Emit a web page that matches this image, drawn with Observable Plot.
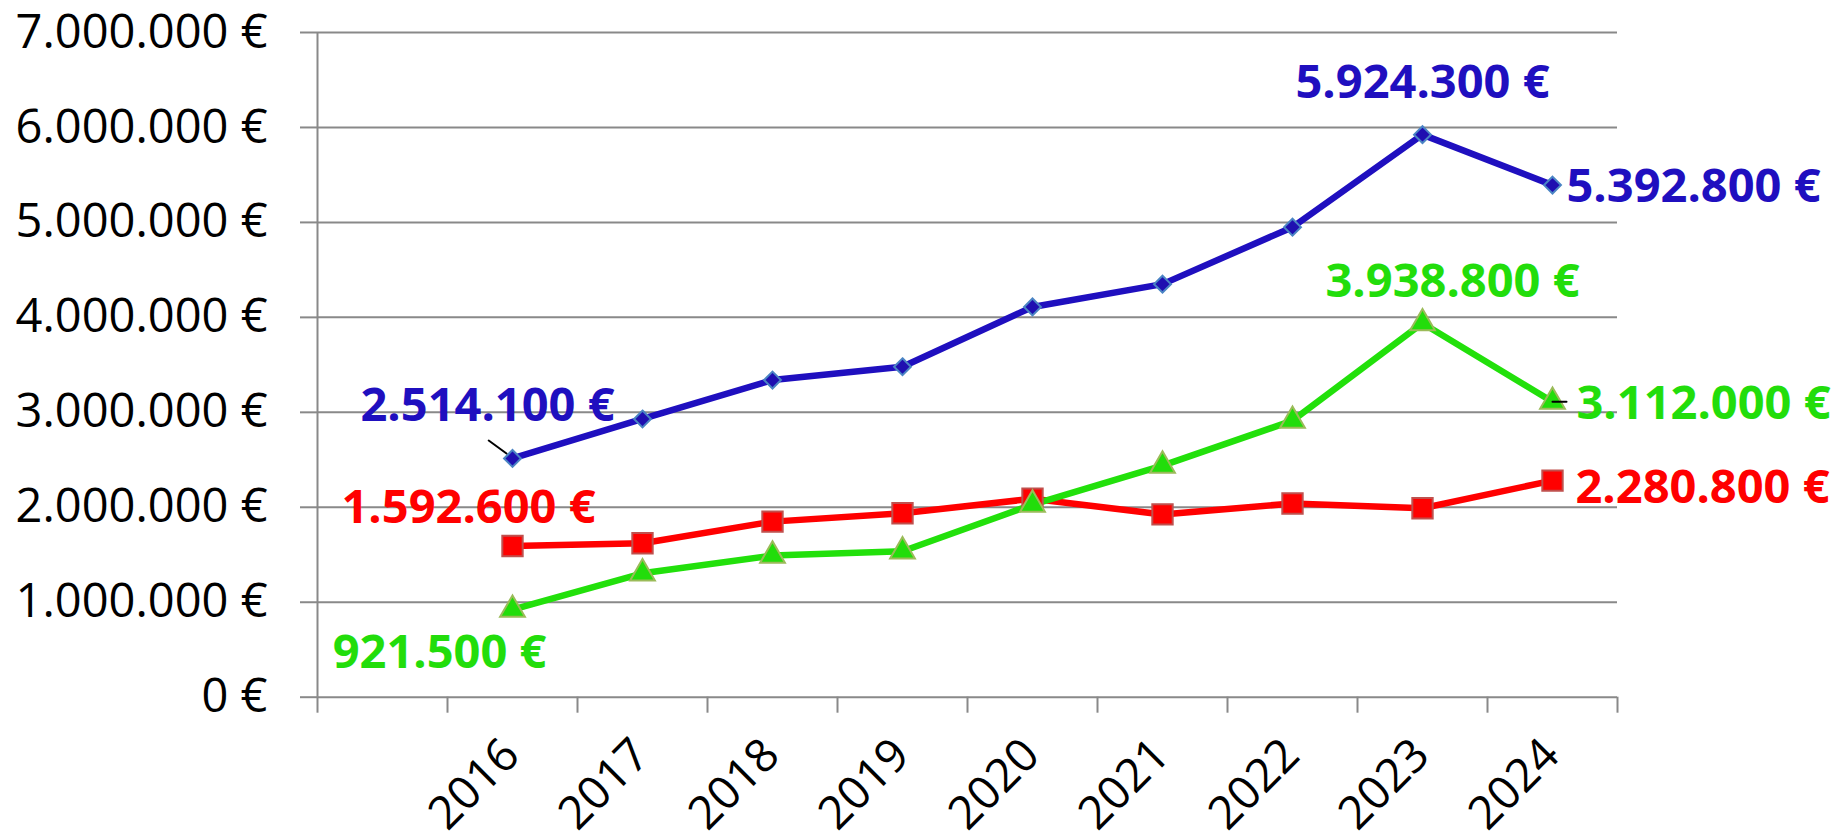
<!DOCTYPE html>
<html><head><meta charset="utf-8">
<script src="https://cdn.jsdelivr.net/npm/d3@7"></script>
<script src="https://cdn.jsdelivr.net/npm/@observablehq/plot@0.6"></script>
<style>html,body{margin:0;padding:0;background:#fff}</style>
</head><body><div id="chart"></div>
<script>
// ---- data ----
const years = [2016, 2017, 2018, 2019, 2020, 2021, 2022, 2023, 2024];
const blueValues  = [2514100, 2930000, 3340000, 3480000, 4110000, 4350000, 4950000, 5924300, 5392800];
const redValues   = [1592600, 1621000, 1849000, 1937000, 2090000, 1925000, 2040000, 1990000, 2280800];
const greenValues = [921500, 1305000, 1491000, 1537000, 2028000, 2439000, 2912000, 3938800, 3112000];
const yTicks = [0, 1000000, 2000000, 3000000, 4000000, 5000000, 6000000, 7000000];

// ---- styling / layout config ----
const xDomain = [2014.5, 2024.5];
const edges = d3.range(xDomain[0], xDomain[1] + 0.5, 1);
const FONT = "'Open Sans', 'Noto Sans', sans-serif";
const FS = 47;
const GRID = "#898989";
const series = [
  {key: "blue",  values: blueValues,  line: "#1F0FBF", label: "#1F0FBF", symbol: "diamond2", r: 7.6, fill: "#1F0FB0", stroke: "#4A84C4"},
  {key: "red",   values: redValues,   line: "#FF0000", label: "#FF0000", symbol: "square",   r: 11.5, fill: "#FF0000", stroke: "#C0504D"},
  {key: "green", values: greenValues, line: "#22E00B", label: "#22DD0B", symbol: "triangle", r: 9.2, fill: "#22DD0B", stroke: "#9BBB59"}
];
const labelSpec = [
  {key: "blue",  year: 2016, dx: -25, dy: -53, anchor: "middle"},
  {key: "blue",  year: 2023, dx: 0,   dy: -52, anchor: "middle"},
  {key: "blue",  year: 2024, dx: 14,  dy: 2,   anchor: "start"},
  {key: "green", year: 2016, dx: -73, dy: 43,  anchor: "middle"},
  {key: "green", year: 2023, dx: 30,  dy: -41, anchor: "middle"},
  {key: "green", year: 2024, dx: 24,  dy: 2,   anchor: "start"},
  {key: "red",   year: 2016, dx: -44, dy: -38, anchor: "middle"},
  {key: "red",   year: 2024, dx: 23,  dy: 7,   anchor: "start"}
];
const leaderSpec = [
  {key: "blue",  year: 2016, dx: -6, dy: -5, rotate: -54, length: 22},
  {key: "green", year: 2024, dx: 0,  dy: 0,  rotate: 90,  length: 14}
];

const fmt = v => d3.format(",")(v).replace(/,/g, ".") + " €";
const rows = s => years.map((year, i) => ({year, value: s.values[i]}));
const byKey = Object.fromEntries(series.map(s => [s.key, s]));
const point = (key, year) => {
  const s = byKey[key];
  return {year, value: s.values[years.indexOf(year)]};
};
const lineShape = {draw(context, l) { context.moveTo(0, 0); context.lineTo(0, -l); }};

const marks = [
  Plot.ruleY(yTicks, {stroke: GRID, strokeWidth: 2}),
  Plot.ruleX([xDomain[0]], {y1: 0, y2: yTicks[yTicks.length - 1], stroke: GRID, strokeWidth: 2}),
  Plot.axisY(yTicks, {tickSize: 17, tickPadding: 33, tickFormat: fmt, fontSize: FS, stroke: GRID, strokeWidth: 2, fill: "black", label: null}),
  Plot.axisX(edges, {tickSize: 16, tickFormat: () => "", stroke: GRID, strokeWidth: 2, label: null})
];
for (const s of series) {
  marks.push(Plot.line(rows(s), {x: "year", y: "value", stroke: s.line, strokeWidth: 6.5}));
}
for (const s of series) {
  marks.push(Plot.dot(rows(s), {x: "year", y: "value", symbol: s.symbol, r: s.r, fill: s.fill, stroke: s.stroke, strokeWidth: 2}));
}
for (const l of leaderSpec) {
  marks.push(Plot.vector([point(l.key, l.year)], {x: "year", y: "value", length: l.length, rotate: l.rotate, anchor: "start", shape: lineShape, dx: l.dx, dy: l.dy, stroke: "black", strokeWidth: 2}));
}
for (const l of labelSpec) {
  marks.push(Plot.text([point(l.key, l.year)], {x: "year", y: "value", text: d => fmt(d.value), dx: l.dx, dy: l.dy, textAnchor: l.anchor, fill: byKey[l.key].label, fontSize: FS, fontWeight: "bold"}));
}
marks.push(Plot.text(years, {x: d => d, y: 0, text: d => String(d), rotate: -45, textAnchor: "end", dx: -1, dy: 50, fontSize: 46, fill: "black"}));

const chart = Plot.plot({
  width: 1845,
  height: 838,
  marginLeft: 317,
  marginRight: 228,
  marginTop: 32,
  marginBottom: 141.3,
  x: {type: "linear", domain: xDomain},
  y: {type: "linear", domain: [0, 7000000]},
  style: {fontFamily: FONT, fontSize: FS + "px", background: "white", overflow: "visible"},
  marks
});
document.getElementById("chart").appendChild(chart);
</script>
</body></html>
